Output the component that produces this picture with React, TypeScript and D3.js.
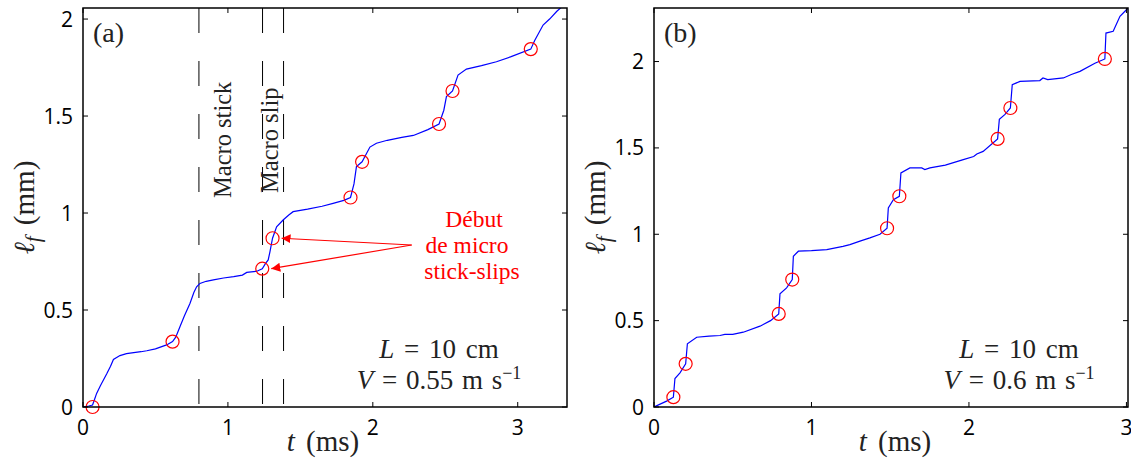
import React from "react";
import * as d3 from "d3";

// ---------- data ----------
const tA = [0, 0.04, 0.066, 0.08, 0.094, 0.12, 0.163, 0.19, 0.21, 0.255, 0.3, 0.35, 0.4, 0.44, 0.5, 0.577, 0.618, 0.64, 0.669, 0.7, 0.738, 0.765, 0.784, 0.807, 0.85, 0.9, 0.97, 1.04, 1.1, 1.13, 1.2, 1.237, 1.26, 1.278, 1.29, 1.308, 1.336, 1.381, 1.42, 1.45, 1.55, 1.65, 1.726, 1.8, 1.846, 1.87, 1.887, 1.926, 1.98, 2.025, 2.1, 2.2, 2.28, 2.38, 2.457, 2.49, 2.508, 2.55, 2.588, 2.646, 2.75, 2.853, 2.95, 3.09, 3.117, 3.175, 3.22, 3.27, 3.3, 3.34];
const lA = [0, 0.005, 0.01, 0.04, 0.07, 0.11, 0.17, 0.21, 0.245, 0.265, 0.275, 0.28, 0.285, 0.29, 0.3, 0.32, 0.337, 0.36, 0.414, 0.47, 0.534, 0.59, 0.62, 0.637, 0.648, 0.655, 0.665, 0.672, 0.68, 0.694, 0.7, 0.713, 0.74, 0.758, 0.8, 0.87, 0.929, 0.964, 0.99, 1.007, 1.02, 1.035, 1.05, 1.065, 1.08, 1.15, 1.239, 1.264, 1.34, 1.36, 1.375, 1.39, 1.4, 1.43, 1.459, 1.53, 1.6, 1.629, 1.711, 1.742, 1.76, 1.78, 1.805, 1.845, 1.89, 1.969, 2.0, 2.04, 2.06, 2.08];
const markTA = [0.066, 0.618, 1.237, 1.308, 1.846, 1.926, 2.457, 2.55, 3.09];
const markLA = [0, 0.337, 0.713, 0.87, 1.08, 1.264, 1.459, 1.629, 1.845];
const macroLinesA = [0.8, 1.239, 1.384];

const tB = [0, 0.08, 0.123, 0.133, 0.165, 0.201, 0.212, 0.271, 0.35, 0.419, 0.45, 0.5, 0.567, 0.673, 0.74, 0.792, 0.8, 0.842, 0.878, 0.885, 0.917, 1.0, 1.097, 1.2, 1.244, 1.308, 1.371, 1.435, 1.48, 1.488, 1.52, 1.558, 1.568, 1.625, 1.7, 1.72, 1.752, 1.85, 1.964, 2.03, 2.05, 2.09, 2.182, 2.193, 2.229, 2.263, 2.275, 2.324, 2.45, 2.47, 2.5, 2.6, 2.65, 2.705, 2.8, 2.863, 2.87, 2.916, 2.959, 3.0, 3.01];
const lB = [0, 0.034, 0.057, 0.165, 0.198, 0.25, 0.366, 0.404, 0.41, 0.414, 0.42, 0.42, 0.433, 0.468, 0.5, 0.539, 0.655, 0.69, 0.738, 0.873, 0.902, 0.905, 0.911, 0.93, 0.94, 0.96, 0.979, 1.0, 1.035, 1.153, 1.2, 1.22, 1.355, 1.384, 1.384, 1.375, 1.384, 1.4, 1.432, 1.45, 1.465, 1.48, 1.552, 1.665, 1.694, 1.731, 1.866, 1.885, 1.89, 1.905, 1.895, 1.905, 1.925, 1.943, 1.99, 2.015, 2.165, 2.175, 2.262, 2.3, 2.31];
const markTB = [0.123, 0.201, 0.792, 0.878, 1.48, 1.558, 2.182, 2.263, 2.863];
const markLB = [0.057, 0.25, 0.539, 0.738, 1.035, 1.22, 1.552, 1.731, 2.015];

const xTicks = [0, 1, 2, 3];
const yTicks = [0, 0.5, 1, 1.5, 2];
const yTickLabels = ["0", "0.5", "1", "1.5", "2"];
const noteLines = ["Début", "de micro", "stick-slips"];

const SERIF = "'Liberation Serif', 'DejaVu Serif', serif";
const SANS = "'Open Sans', 'DejaVu Sans', sans-serif";

type PanelProps = {
  id: string;
  left: number; right: number; top: number; bottom: number;
  xMax: number; yMax: number;
  t: number[]; l: number[]; mt: number[]; ml: number[];
  letter: string; vText: string;
  textX: number; ylabelX: number; xlabelX: number;
  macro?: number[];
};

function Panel(p: PanelProps) {
  const x = d3.scaleLinear().domain([0, p.xMax]).range([p.left, p.right]);
  const y = d3.scaleLinear().domain([0, p.yMax]).range([p.bottom, p.top]);
  const pts = p.t.map((tv, i) => [tv, p.l[i]] as [number, number]);
  const line = d3.line<[number, number]>().x(d => x(d[0])).y(d => y(d[1]));
  const tickLen = 5;
  const w = p.right - p.left, h = p.bottom - p.top;
  const midY = (p.top + p.bottom) / 2;
  return (
    <g>
      <defs>
        <clipPath id={"clip" + p.id}>
          <rect x={p.left} y={p.top} width={w} height={h} />
        </clipPath>
      </defs>
      {p.macro && p.macro.map((m, i) => (
        <line key={"m" + i} x1={x(m)} x2={x(m)} y1={p.top} y2={p.bottom}
          stroke="#000" strokeWidth={1} strokeDasharray="25 28" />
      ))}
      <path d={line(pts) || ""} fill="none" stroke="#0000ff" strokeWidth={1.2}
        clipPath={`url(#clip${p.id})`} />
      {p.mt.map((mv, i) => (
        <circle key={"c" + i} cx={x(mv)} cy={y(p.ml[i])} r={6.5}
          fill="none" stroke="#ff0000" strokeWidth={1.2} />
      ))}
      <rect x={p.left} y={p.top} width={w} height={h} fill="none" stroke="#000" strokeWidth={1.5} />
      {xTicks.map(tv => (
        <g key={"xt" + tv}>
          <line x1={x(tv)} x2={x(tv)} y1={p.bottom} y2={p.bottom - tickLen} stroke="#000" strokeWidth={1} />
          <line x1={x(tv)} x2={x(tv)} y1={p.top} y2={p.top + tickLen} stroke="#000" strokeWidth={1} />
          <text x={x(tv)} y={p.bottom + 28} textAnchor="middle" fontFamily={SANS} fontSize={21} fill="#000">{tv}</text>
        </g>
      ))}
      {yTicks.map((v, i) => (
        <g key={"yt" + v}>
          <line x1={p.left} x2={p.left + tickLen} y1={y(v)} y2={y(v)} stroke="#000" strokeWidth={1} />
          <line x1={p.right} x2={p.right - tickLen} y1={y(v)} y2={y(v)} stroke="#000" strokeWidth={1} />
          <text x={p.left - 10} y={y(v) + 7.5} textAnchor="end" fontFamily={SANS} fontSize={21} fill="#000">{yTickLabels[i]}</text>
        </g>
      ))}
      <text x={p.xlabelX} y={451} textAnchor="middle" fontFamily={SERIF} fontSize={29} fill="#222" wordSpacing={4}>
        <tspan fontStyle="italic">t</tspan> (ms)
      </text>
      <text transform={`translate(${p.ylabelX},${midY}) rotate(-90)`} textAnchor="middle" fontFamily={SERIF} fontSize={29} fill="#222" wordSpacing={4}>
        <tspan fontStyle="italic">ℓ</tspan><tspan fontStyle="italic" fontSize={21} dy={6}>f</tspan><tspan dy={-6}> (mm)</tspan>
      </text>
      <text x={p.left + 10} y={42} fontFamily={SERIF} fontSize={28} fill="#222">{p.letter}</text>
      <text x={p.textX} y={358} textAnchor="middle" fontFamily={SERIF} fontSize={27} fill="#222" wordSpacing={3}>
        <tspan fontStyle="italic">L</tspan> = 10 cm
      </text>
      <text x={p.textX} y={389} textAnchor="middle" fontFamily={SERIF} fontSize={27} fill="#222" wordSpacing={2}>
        <tspan fontStyle="italic">V</tspan> = {p.vText} m s<tspan fontSize={18} dy={-10}>−1</tspan>
      </text>
    </g>
  );
}

export default function App() {
  const ax = { left: 83, right: 567, top: 8, bottom: 407 };
  const xa = d3.scaleLinear().domain([0, 3.34]).range([ax.left, ax.right]);
  const ya = d3.scaleLinear().domain([0, 2.057]).range([ax.bottom, ax.top]);
  const origin = [411.7, 245];
  const tips = [[markTA[3], markLA[3], 9], [markTA[2], markLA[2], 9]];
  const noteX = [474, 467, 472];
  return (
    <svg width={1131} height={473} style={{ position: "absolute", left: 0, top: 0, background: "#fff" }}>
      <defs>
        <marker id="arr" viewBox="0 0 10 10" refX={10} refY={5} markerWidth={9} markerHeight={9}
          markerUnits="userSpaceOnUse" orient="auto">
          <path d="M0,0 L10,5 L0,10 z" fill="#ff0000" />
        </marker>
      </defs>
      <Panel id="a" {...ax} xMax={3.34} yMax={2.057} t={tA} l={lA} mt={markTA} ml={markLA}
        letter="(a)" vText="0.55" textX={439} ylabelX={34} xlabelX={323} macro={macroLinesA} />
      <Panel id="b" left={654} right={1128} top={8} bottom={407} xMax={3.01} yMax={2.31}
        t={tB} l={lB} mt={markTB} ml={markLB}
        letter="(b)" vText="0.6" textX={1019} ylabelX={605} xlabelX={895} />
      <text transform={`translate(231,198) rotate(-90)`} fontFamily={SERIF} fontSize={24.5} fill="#222">Macro stick</text>
      <text transform={`translate(278,193) rotate(-90)`} fontFamily={SERIF} fontSize={24.5} fill="#222">Macro slip</text>
      {tips.map((tp, i) => (
        <line key={"ar" + i} x1={origin[0]} y1={origin[1]} x2={xa(tp[0] as number) + tp[2]} y2={ya(tp[1] as number)}
          stroke="#ff0000" strokeWidth={1.2} markerEnd="url(#arr)" />
      ))}
      <text y={227} textAnchor="middle" fontFamily={SERIF} fontSize={23.5} fill="#ff0000">
        {noteLines.map((s, i) => (
          <tspan key={s} x={noteX[i]} dy={i === 0 ? 0 : 26}>{s}</tspan>
        ))}
      </text>
    </svg>
  );
}
